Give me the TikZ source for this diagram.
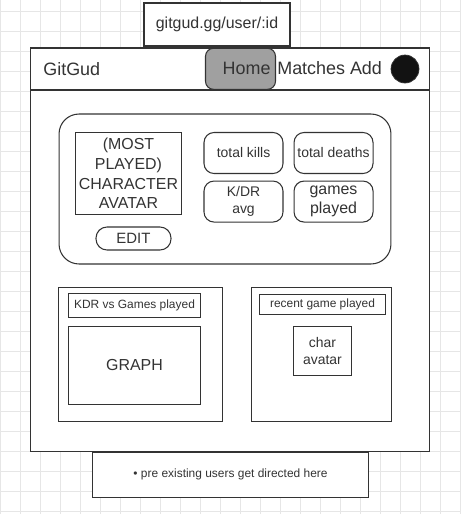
\documentclass[tikz,border=0pt]{standalone}
\usepackage{fontspec}
\setmainfont{Liberation Sans}
\usepackage{xcolor}
\definecolor{ink}{RGB}{51, 51, 51}
\definecolor{gridgray}{RGB}{230, 230, 230}
\definecolor{btngray}{RGB}{160, 160, 160}
\usepackage{tikz}
\usetikzlibrary{
    positioning
}
\tikzstyle{box} = [
    rectangle,
    draw=ink,
    fill=white,
    line width=0.6pt,
    inner sep=0pt,
    text=ink,
    text centered,
    align=center
]
\tikzstyle{card} = [
    box,
    rounded corners=0.2cm
]
\tikzstyle{caption} = [
    inner sep=0pt,
    text=ink
]

\begin{document}
\begin{tikzpicture}[
    x=0.02cm, y=-0.02cm,
    f12/.style={font=\fontsize{6.8pt}{8.2pt}\selectfont},
    f14/.style={font=\fontsize{7.94pt}{10pt}\selectfont},
    f15/.style={font=\fontsize{8.5pt}{10.2pt}\selectfont},
    f16/.style={font=\fontsize{9.07pt}{10.6pt}\selectfont},
    f18/.style={font=\fontsize{10.2pt}{12.2pt}\selectfont},
    gridline/.style={draw=gridgray, line width=0.6pt}
]
\useasboundingbox (0,0) rectangle (461,514);

% background grid
\foreach \gx in {0,...,23}
    \draw [gridline] (\gx*20+0.5,0) -- (\gx*20+0.5,514);
\foreach \gy in {0,...,25}
    \draw [gridline] (0,\gy*20+11.5) -- (461,\gy*20+11.5);

\node (url) [box, f16, minimum width=2.92cm, minimum height=0.86cm]
    at (217,24.5) {gitgud.gg/user/:id};

% page frame
\node (body) [box, minimum width=8cm, minimum height=7.24cm] at (230,271) {};
\node (header) [box, minimum width=8cm, minimum height=0.84cm] at (230,69) {};

\node (brand) [caption, f18, anchor=west] at (43,69) {GitGud};
\node (home) [box, f18, fill=btngray, rounded corners=0.16cm,
    inner xsep=0.1cm, text width=1.2cm, align=right, minimum height=0.82cm]
    at (240.5,68.8) {Home};
\node (menu) [caption, f18, anchor=west] at (277,68) {Matches Add};
\node (profile) [circle, draw=ink, fill=black!93, minimum size=0.56cm, inner sep=0pt]
    at (405,69) {};

% stats panel
\node (stats) [box, rounded corners=0.4cm, minimum width=6.64cm, minimum height=3cm]
    at (225,189) {};
\node (mainchar) [box, font=\fontsize{9.07pt}{11.2pt}\selectfont,
    minimum width=2.12cm, minimum height=1.64cm]
    at (128.5,173.5) {(MOST\\PLAYED)\\CHARACTER\\AVATAR};
\node (edit) [box, f15, rounded corners=0.22cm, minimum width=1.5cm, minimum height=0.46cm]
    at (133.5,238.5) {EDIT};
\node (kills) [card, f14, minimum width=1.58cm, minimum height=0.82cm]
    at (243.5,153) {total kills};
\node (deaths) [card, f14, minimum width=1.58cm, minimum height=0.82cm, right=0.2cm of kills]
    {total deaths};
\node (kdr) [card, f14, minimum width=1.58cm, minimum height=0.82cm, below=0.13cm of kills]
    {K/DR\\avg};
\node (games) [card, f16, minimum width=1.58cm, minimum height=0.82cm, right=0.2cm of kdr]
    {games\\played};

% graph panel
\node (graphpanel) [box, minimum width=3.28cm, minimum height=2.68cm] at (140.5,354.5) {};
\node (graphtitle) [box, f12, minimum width=2.64cm, minimum height=0.48cm]
    at (134.5,305.3) {KDR vs Games played};
\node (graph) [box, f16, minimum width=2.64cm, minimum height=1.55cm]
    at (134.5,365.5) {GRAPH};

% recent game panel
\node (recentpanel) [box, minimum width=2.8cm, minimum height=2.68cm] at (321.7,354.5) {};
\node (recenttitle) [box, f12, minimum width=2.53cm, minimum height=0.39cm]
    at (322.5,304.7) {recent game played};
\node (recentchar) [box, f14, minimum width=1.17cm, minimum height=0.97cm]
    at (322.5,351) {char\\avatar};

\node (note) [box, f12, minimum width=5.53cm, minimum height=0.9cm]
    at (230.5,474.8) {\textbullet{} pre existing users get directed here};

\end{tikzpicture}
\end{document}
